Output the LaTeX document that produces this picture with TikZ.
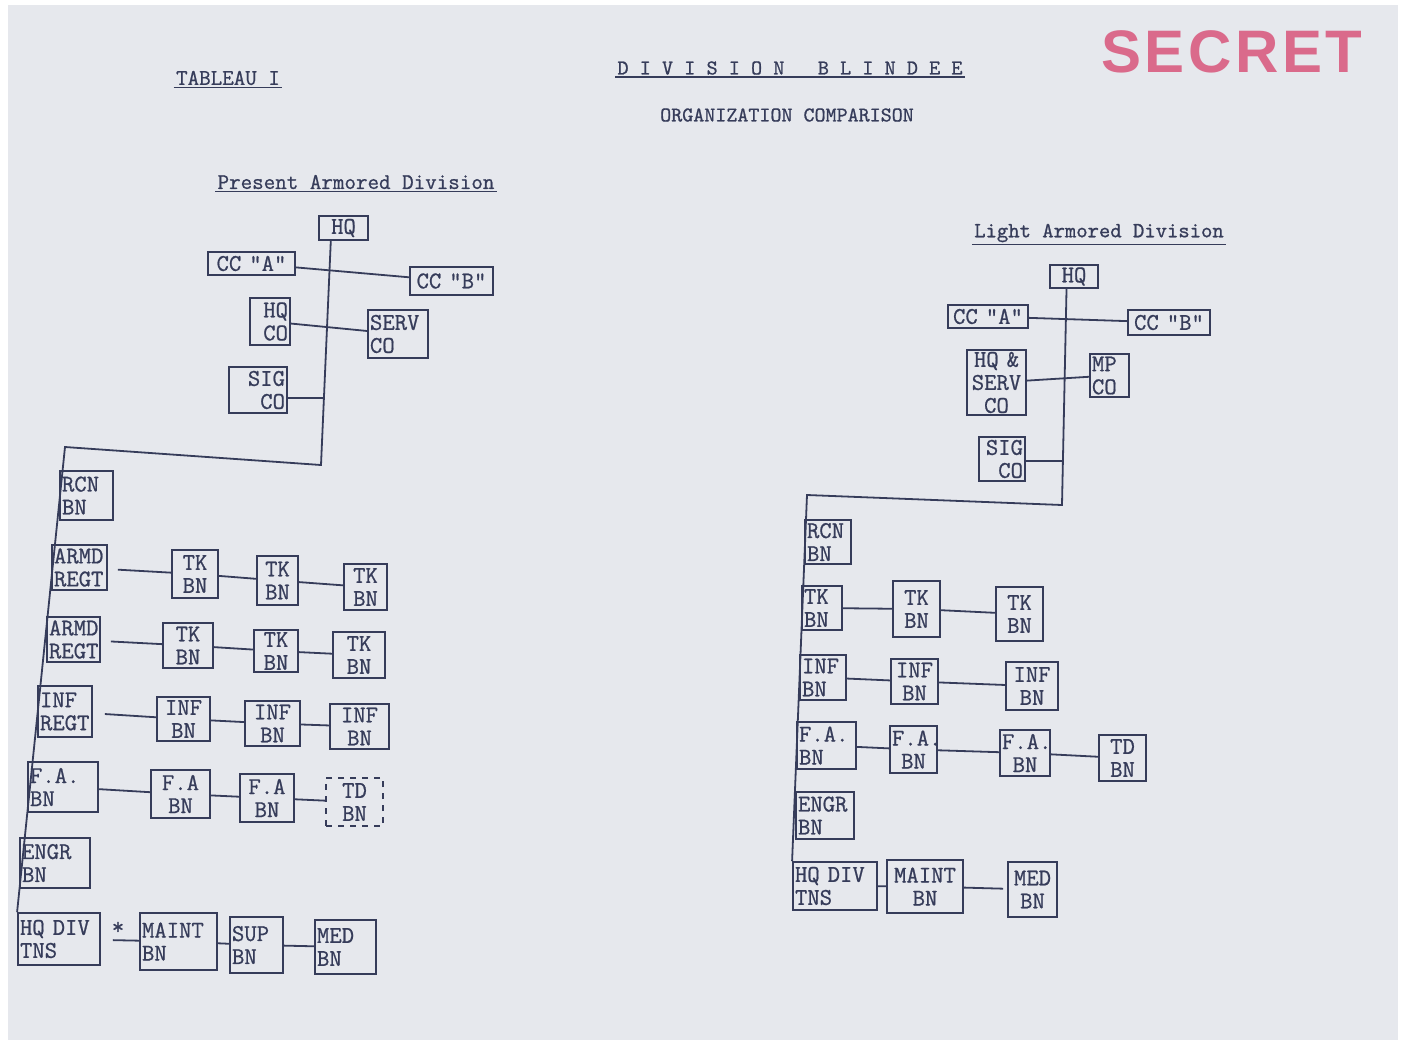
\documentclass[tikz,border=0pt]{standalone}
\usepackage{fontspec}
\setmainfont{Latin Modern Mono}[FakeBold=0.8]
\newfontfamily\stampfont[LetterSpace=6]{Liberation Sans}
\usetikzlibrary{calc}
\definecolor{ink}{HTML}{363C5A}
\definecolor{paper}{HTML}{E6E8ED}
\definecolor{stamp}{HTML}{D8557A}
\newcommand\qq{\symbol{34}}
\begin{document}
\begin{tikzpicture}[x=0.5pt,y=-0.5pt,
  box/.style={draw=ink, line width=0.9pt, text=ink, font=\fontsize{12}{11.5}\selectfont, inner xsep=1pt, inner ysep=0.5pt},
  wh/.code 2 args={%
    \pgfmathsetmacro\bxw{#1*0.5-2}%
    \pgfmathsetmacro\bxo{#1*0.5}%
    \pgfmathsetmacro\bxh{#2*0.5}%
    \edef\bxtmp{\noexpand\tikzset{text width=\bxw pt,minimum width=\bxo pt,minimum height=\bxh pt}}\bxtmp},
  ln/.style={draw=ink, line width=0.9pt},
  ttl/.style={text=ink, font=\fontsize{11.2}{12}\selectfont, inner sep=1pt},
  uline/.style={draw=ink, line width=0.8pt},
]
\useasboundingbox (0,0) rectangle (1405,1040);
\fill[white] (0,0) rectangle (1405,1040);
\fill[paper] (8,5) rectangle (1398,1040);

% ---------- header ----------
\node[ttl] (tab) at (228,78) {TABLEAU I};
\draw[uline] (tab.south west) -- (tab.south east);
\node[ttl, font=\fontsize{10.6}{12}\selectfont] (div) at (790,68) {D~I~V~I~S~I~O~N~~~B~L~I~N~D~E~E};
\draw[uline] (div.south west) -- (div.south east);
\node[ttl, font=\fontsize{10.5}{12}\selectfont] (org) at (787,115) {ORGANIZATION COMPARISON};
\node[text=stamp, opacity=0.85, font=\stampfont\bfseries\fontsize{30}{32}\selectfont, inner sep=0pt] (secret) at (1232,52) {SECRET};

% ---------- left chart : Present Armored Division ----------
\node[ttl] (titleL) at (356,182) {Present Armored Division};
\draw[uline] (titleL.south west) -- (titleL.south east);

\node[box, wh={49}{24}, align=center] (hqL) at (343.5,228) {HQ};
\node[box, wh={87}{23}, align=center] (ccAL) at (251.5,263.5) {CC \qq A\qq};
\node[box, wh={83}{28}, align=center] (ccBL) at (451.5,281) {CC \qq B\qq};
\node[box, wh={40}{47}, align=right] (hqcoL) at (270,321.5) {HQ\\CO};
\node[box, wh={60}{48}, align=left] (servL) at (398,334) {SERV\\CO};
\node[box, wh={58}{46}, align=right] (sigL) at (258,390) {SIG\\CO};

\coordinate (spTL) at ($(hqL.south west)!0.25!(hqL.south east)$);
\coordinate (spbL) at (321,465);
\coordinate (cL) at (65,447);
\coordinate (sigJL) at (324,398);

\node[box, wh={53}{49}, align=left] (rcnL) at (86.5,495.5) {RCN\\BN};
\node[box, wh={55}{45}, align=left] (armd1) at (79.5,567.5) {ARMD\\REGT};
\node[box, wh={53}{45}, align=left] (armd2) at (73.5,639.5) {ARMD\\REGT};
\node[box, wh={54}{51}, align=left] (infRg) at (65,711.5) {INF\\REGT};
\node[box, wh={70}{50}, align=left] (faL) at (63,787) {F.A.\\BN};
\node[box, wh={70}{50}, align=left] (engrL) at (55,863) {ENGR\\BN};
\node[box, wh={82}{52}, align=left] (hqdivL) at (59,939) {HQ DIV\\TNS};

\node[box, wh={46}{48}, align=center] (tk11) at (195,574) {TK\\BN};
\node[box, wh={41}{49}, align=center] (tk12) at (277.5,580.5) {TK\\BN};
\node[box, wh={43}{46}, align=center] (tk13) at (365.5,587) {TK\\BN};

\node[box, wh={50}{45}, align=center] (tk21) at (188,645.5) {TK\\BN};
\node[box, wh={44}{42}, align=center] (tk22) at (276,651) {TK\\BN};
\node[box, wh={52}{46}, align=center] (tk23) at (359,655) {TK\\BN};

\node[box, wh={53}{44}, align=center] (inf1) at (183.5,719) {INF\\BN};
\node[box, wh={55}{45}, align=center] (inf2) at (272.5,723.5) {INF\\BN};
\node[box, wh={59}{45}, align=center] (inf3) at (359.5,726.5) {INF\\BN};

\node[box, wh={59}{48}, align=center] (fa1) at (180.5,794) {F.A\\BN};
\node[box, wh={54}{48}, align=center] (fa2) at (267,798) {F.A\\BN};
\node[box, wh={57}{48}, align=center, dashed] (tdL) at (354.5,802) {TD\\BN};

\node[text=ink, font=\fontsize{12}{11.5}\selectfont, inner sep=0pt] (star) at (118,928) {*};
\node[box, wh={77}{57}, align=left] (maintL) at (178.5,941.5) {MAINT\\BN};
\node[box, wh={53}{56}, align=left] (supL) at (256.5,945) {SUP\\BN};
\node[box, wh={61}{54}, align=left] (medL) at (345.5,947) {MED\\BN};

\draw[ln] (spTL) -- (spbL) -- (cL) -- (hqdivL.north west);
\draw[ln] (ccAL) -- (ccBL);
\draw[ln] (hqcoL) -- (servL);
\draw[ln] (sigL.east |- sigJL) -- (sigJL);
\draw[ln, shorten <=5pt] (armd1) -- (tk11);
\draw[ln] (tk11) -- (tk12);
\draw[ln] (tk12) -- (tk13);
\draw[ln, shorten <=5pt] (armd2) -- (tk21);
\draw[ln] (tk21) -- (tk22);
\draw[ln] (tk22) -- (tk23);
\draw[ln, shorten <=6pt] (infRg) -- (inf1);
\draw[ln] (inf1) -- (inf2);
\draw[ln] (inf2) -- (inf3);
\draw[ln] (faL) -- (fa1);
\draw[ln] (fa1) -- (fa2);
\draw[ln] (fa2) -- (tdL);
\draw[ln, shorten <=6pt] (hqdivL) -- (maintL);
\draw[ln] (maintL) -- (supL);
\draw[ln] (supL) -- (medL);

% ---------- right chart : Light Armored Division ----------
\node[ttl, font=\fontsize{10.8}{12}\selectfont] (titleR) at (1099,233) {Light Armored Division};
\draw[uline] (titleR.south west) -- (titleR.south east);

\node[box, wh={48}{23}, align=center] (hqR) at (1074,276.5) {HQ};
\node[box, wh={80}{23}, align=center] (ccAR) at (988,316.5) {CC \qq A\qq};
\node[box, wh={82}{25}, align=center] (ccBR) at (1169,322.5) {CC \qq B\qq};
\node[box, wh={59}{65}, align=center] (hqsR) at (996.5,382.5) {HQ \&\\SERV\\CO};
\node[box, wh={39}{43}, align=left] (mpR) at (1109.5,375.5) {MP\\CO};
\node[box, wh={46}{44}, align=right] (sigR) at (1002,459) {SIG\\CO};

\coordinate (spTR) at ($(hqR.south west)!0.35!(hqR.south east)$);
\coordinate (spbR) at (1062,505);
\coordinate (cR) at (807,495);
\coordinate (sigJR) at (1064,461);

\node[box, wh={46}{44}, align=left] (rcnR) at (828,542) {RCN\\BN};
\node[box, wh={40}{44}, align=left] (tkR1) at (822,608) {TK\\BN};
\node[box, wh={47}{56}, align=center] (tkR2) at (916.5,609) {TK\\BN};
\node[box, wh={47}{54}, align=center] (tkR3) at (1019.5,614) {TK\\BN};

\node[box, wh={46}{45}, align=left] (infR1) at (823,677.5) {INF\\BN};
\node[box, wh={47}{45}, align=center] (infR2) at (914.5,681.5) {INF\\BN};
\node[box, wh={52}{48}, align=center] (infR3) at (1032,686) {INF\\BN};

\node[box, wh={59}{47}, align=left] (faR1) at (826.5,745.5) {F.A.\\BN};
\node[box, wh={47}{47}, align=center] (faR2) at (913.5,749.5) {F.A.\\BN};
\node[box, wh={50}{46}, align=center] (faR3) at (1025,753) {F.A.\\BN};
\node[box, wh={47}{46}, align=center] (tdR) at (1122.5,758) {TD\\BN};

\node[box, wh={58}{47}, align=left] (engrR) at (825,815.5) {ENGR\\BN};
\node[box, wh={84}{48}, align=left] (hqdivR) at (835,886) {HQ DIV\\TNS};
\node[box, wh={76}{53}, align=center] (maintR) at (925,886.5) {MAINT\\BN};
\node[box, wh={49}{55}, align=center] (medR) at (1032.5,889.5) {MED\\BN};

\draw[ln] (spTR) -- (spbR) -- (cR) -- (hqdivR.north west);
\draw[ln] (ccAR) -- (ccBR);
\draw[ln] (hqsR) -- (mpR);
\draw[ln] (sigR.east |- sigJR) -- (sigJR);
\draw[ln] (tkR1) -- (tkR2);
\draw[ln] (tkR2) -- (tkR3);
\draw[ln] (infR1) -- (infR2);
\draw[ln] (infR2) -- (infR3);
\draw[ln] (faR1) -- (faR2);
\draw[ln] (faR2) -- (faR3);
\draw[ln] (faR3) -- (tdR);
\draw[ln] (hqdivR) -- (maintR);
\draw[ln, shorten >=2pt] (maintR) -- (medR);
\end{tikzpicture}
\end{document}
